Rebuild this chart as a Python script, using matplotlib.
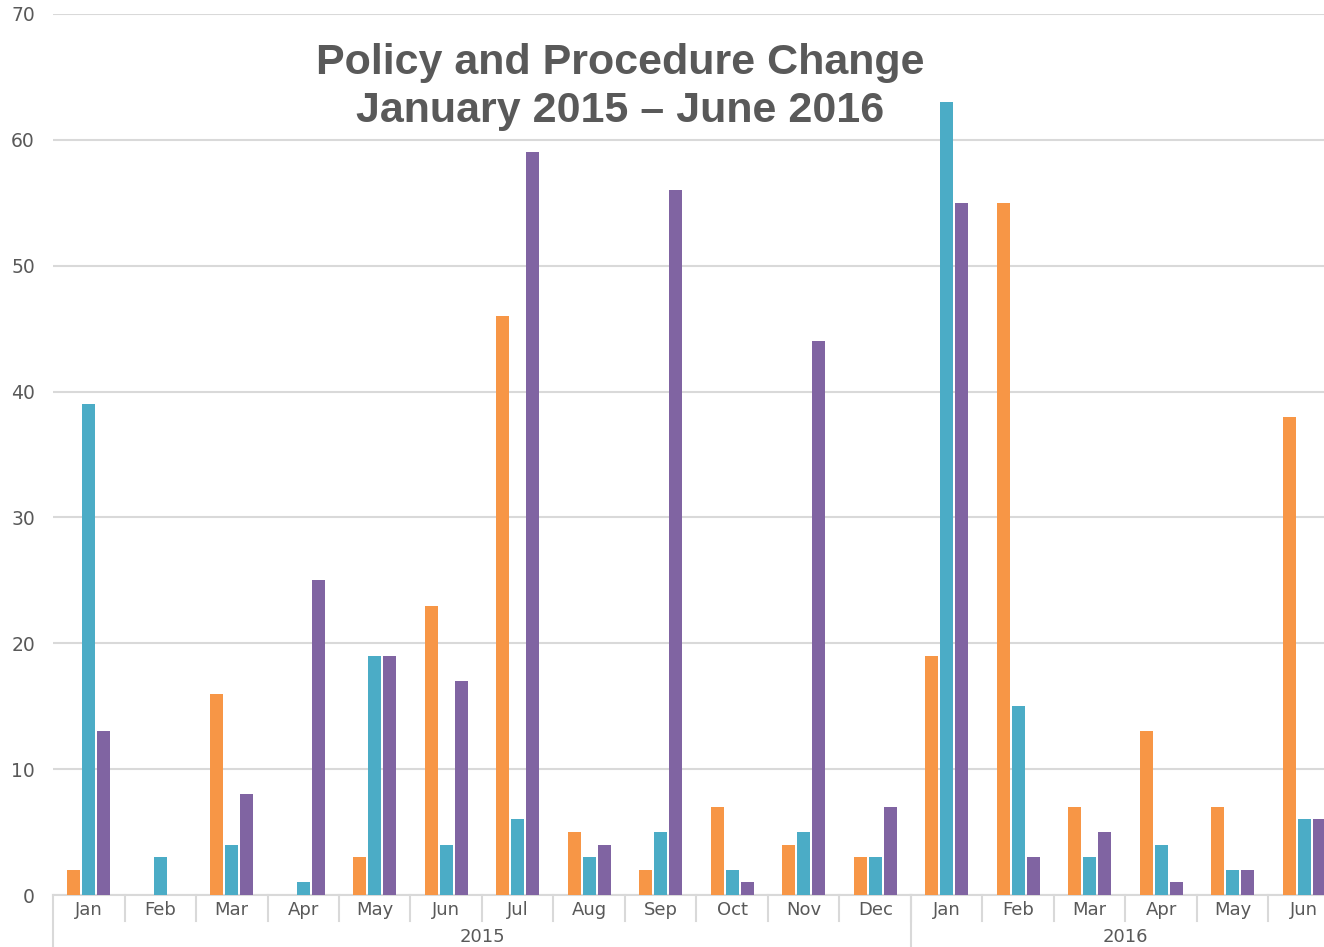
import matplotlib
matplotlib.use("Agg")
import matplotlib.pyplot as plt
import numpy as np

months = ["Jan", "Feb", "Mar", "Apr", "May", "Jun", "Jul", "Aug", "Sep", "Oct", "Nov", "Dec",
          "Jan", "Feb", "Mar", "Apr", "May", "Jun"]
years = ["2015", "2016"]
year_counts = [12, 6]
series_a = [2, 0, 16, 0, 3, 23, 46, 5, 2, 7, 4, 3, 19, 55, 7, 13, 7, 38]
series_b = [39, 3, 4, 1, 19, 4, 6, 3, 5, 2, 5, 3, 63, 15, 3, 4, 2, 6]
series_c = [13, 0, 8, 25, 19, 17, 59, 4, 56, 1, 44, 7, 55, 3, 5, 1, 2, 6]
colors = ["#F79646", "#4BACC6", "#8064A2"]
title = "Policy and Procedure Change\nJanuary 2015 \u2013 June 2016"

W, H = 1324, 947
fig = plt.figure(figsize=(W / 100, H / 100), dpi=100)
left_px, right_px, top_px, bottom_px = 53, 1340, 14, 895
ax = fig.add_axes([left_px / W, 1 - bottom_px / H, (right_px - left_px) / W, (bottom_px - top_px) / H])

x = np.arange(len(months))
bw = 0.18
off = 0.21
for i, (vals, c) in enumerate(zip([series_a, series_b, series_c], colors)):
    ax.bar(x + (i - 1) * off, vals, width=bw, color=c, zorder=3)

ax.set_xlim(-0.5, len(months) - 0.5)
ax.set_ylim(0, 70)
ax.set_yticks(range(0, 71, 10))
ax.yaxis.grid(True, color="#D9D9D9", linewidth=1.5, zorder=0)
for s in ["top", "right", "left"]:
    ax.spines[s].set_visible(False)
ax.spines["bottom"].set_color("#D9D9D9")
ax.spines["bottom"].set_linewidth(1.5)
ax.tick_params(axis="y", length=0, pad=13, labelsize=13.5, labelcolor="#595959")
ax.set_xticks([])
for lab in ax.get_yticklabels():
    lab.set_fontfamily("DejaVu Sans")

tr = ax.get_xaxis_transform()
sep_color = "#D9D9D9"
# month labels
for i, m in enumerate(months):
    ax.text(i, -15 / 881, m, transform=tr, ha="center", va="center", fontsize=13,
            color="#595959", family="DejaVu Sans", clip_on=False)
# short separators between months
for i in range(1, len(months)):
    ax.plot([i - 0.5, i - 0.5], [0, -26 / 881], transform=tr, color=sep_color, lw=1.5, clip_on=False)
# year labels and long separators
start = 0
ax.plot([-0.5, -0.5], [0, -52 / 881], transform=tr, color=sep_color, lw=1.5, clip_on=False)
for yl, cnt in zip(years, year_counts):
    center = start + (cnt - 1) / 2
    ax.text(center, -42 / 881, yl, transform=tr, ha="center", va="center", fontsize=13,
            color="#595959", family="DejaVu Sans", clip_on=False)
    end = start + cnt
    if end < len(months):
        ax.plot([end - 0.5, end - 0.5], [0, -52 / 881], transform=tr, color=sep_color, lw=1.5, clip_on=False)
    start = end

fig.text(620 / W, 1 - 87 / H, title, ha="center", va="center", fontsize=31, fontweight="bold",
         color="#595959", family="Liberation Sans", linespacing=1.25)

fig.savefig("out.png", dpi=100)
